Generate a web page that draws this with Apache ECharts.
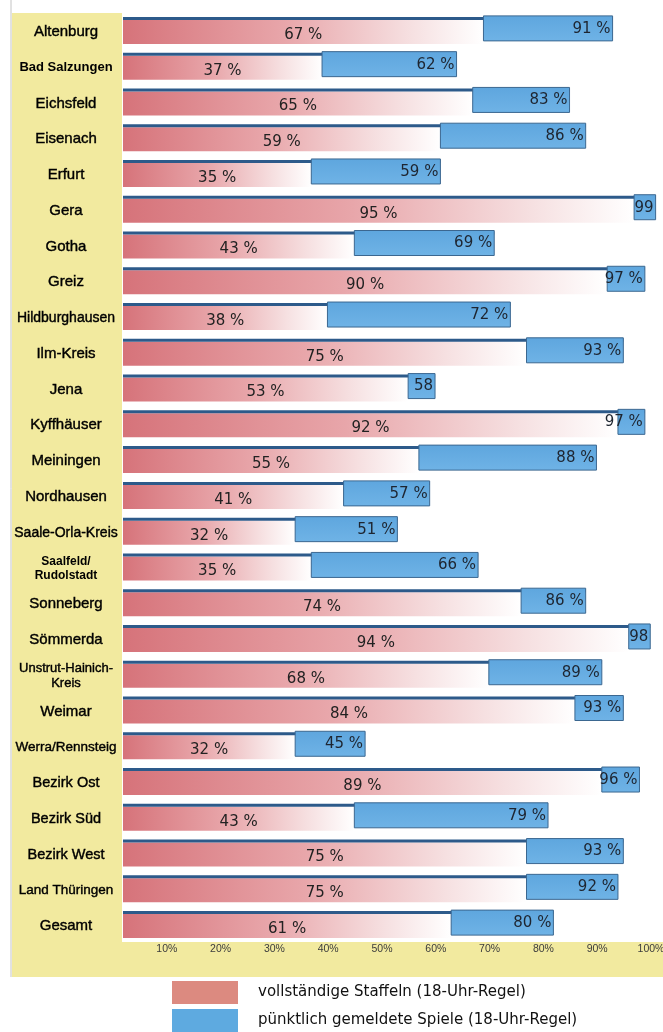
<!DOCTYPE html>
<html>
<head>
<meta charset="utf-8">
<script src="https://cdn.jsdelivr.net/npm/echarts@6/dist/echarts.min.js"></script>
<style>
html,body{margin:0;padding:0;background:#ffffff;}
#chart{width:663px;height:1032px;}
</style>
</head>
<body>
<div id="chart"></div>
<script>
// ---- data ----
const categories = ['Altenburg','Bad Salzungen','Eichsfeld','Eisenach','Erfurt','Gera','Gotha','Greiz',
  'Hildburghausen','Ilm-Kreis','Jena','Kyffhäuser','Meiningen','Nordhausen','Saale-Orla-Kreis',
  'Saalfeld/Rudolstadt','Sonneberg','Sömmerda','Unstrut-Hainich-Kreis','Weimar','Werra/Rennsteig',
  'Bezirk Ost','Bezirk Süd','Bezirk West','Land Thüringen','Gesamt'];
const completeSquads = [67,37,65,59,35,95,43,90,38,75,53,92,55,41,32,35,74,94,68,84,32,89,43,75,75,61];
const punctualGames  = [91,62,83,86,59,99,69,97,72,93,58,97,88,57,51,66,86,98,89,93,45,96,79,93,92,80];
const noPercentLabel = ['Gera','Jena','Sömmerda'];   // labels cut off in the original
const xTicks = [10,20,30,40,50,60,70,80,90,100];
const seriesNames = ['vollständige Staffeln (18-Uhr-Regel)','pünktlich gemeldete Spiele (18-Uhr-Regel)'];

// ---- styling ----
const baseLabel = {align:'center', color:'#000', fontSize:15, fontFamily:'"Liberation Sans", Arial, sans-serif',
  textBorderColor:'#000', textBorderWidth:0.4};
const labelStyle = {
  'Bad Salzungen': {fontSize:13, fontWeight:'bold', textBorderWidth:0},
  'Hildburghausen': {fontSize:14},
  'Saale-Orla-Kreis': {fontSize:14},
  'Saalfeld/Rudolstadt': {fontSize:12, fontWeight:'bold', lineHeight:14, textBorderWidth:0},
  'Unstrut-Hainich-Kreis': {fontSize:13, lineHeight:15},
  'Werra/Rennsteig': {fontSize:13.5},
  'Land Thüringen': {fontSize:13.5},
  'Bezirk Ost': {fontSize:14.5},
  'Bezirk Süd': {fontSize:14.5},
  'Bezirk West': {fontSize:14.5}
};
const RED = '#dc8a80', BLUE = '#5eaae0', DARK = '#2d5a8a';
const valueFont = '15px "DejaVu Sans", Verdana, sans-serif';

const chart = echarts.init(document.getElementById('chart'), null, {renderer:'canvas'});

const yData = categories.map(c => ({value:c, textStyle: Object.assign({}, baseLabel, labelStyle[c] || {})}));

function renderRed(params, api){
  const i = api.value(0), v = api.value(1);
  const p0 = api.coord([0, i]), p1 = api.coord([v, i]);
  const c = p0[1];
  return {type:'group', children:[
    {type:'rect', shape:{x:p0[0], y:c-12, width:p1[0]-p0[0], height:24},
     style:{fill:new echarts.graphic.LinearGradient(0,0,1,0,[
        {offset:0,color:'#d6737a'},{offset:0.45,color:'#e8a6aa'},
        {offset:0.8,color:'#f6e0e1'},{offset:1,color:'#ffffff'}])}},
    {type:'text', style:{text: v + ' %', x:(p0[0]+p1[0])/2, y:c+3, align:'center', verticalAlign:'middle',
     font: valueFont, fill:'#222'}}
  ]};
}
function renderBlue(params, api){
  const i = api.value(0), r = api.value(1), b = api.value(2);
  const p0 = api.coord([0, i]), pR = api.coord([r, i]), pB = api.coord([b, i]);
  const c = p0[1];
  const txt = noPercentLabel.indexOf(categories[i]) >= 0 ? String(b) : b + ' %';
  return {type:'group', children:[
    {type:'rect', shape:{x:p0[0], y:c-15, width:pB[0]-p0[0], height:3}, style:{fill:DARK}},
    {type:'rect', shape:{x:pR[0], y:c-16, width:pB[0]-pR[0], height:25},
     style:{fill:new echarts.graphic.LinearGradient(0,0,0,1,[
        {offset:0,color:'#5ea6de'},{offset:1,color:'#6fb3e6'}]), stroke:'#3b6790', lineWidth:1}},
    {type:'text', style:{text: txt, x:pB[0]-2, y:c-3, align:'right', verticalAlign:'middle',
     font: valueFont, fill:'#1e2530'}}
  ]};
}

const option = {
  animation:false,
  backgroundColor:'#ffffff',
  graphic:[
    {type:'line', z:-10, shape:{x1:11,y1:0,x2:11,y2:977}, style:{stroke:'#c4c4c4', lineWidth:1}},
    {type:'rect', z:-10, shape:{x:12,y:13,width:110,height:964}, style:{fill:'#f2ea9f'}},
    {type:'rect', z:-10, shape:{x:12,y:942,width:651,height:35}, style:{fill:'#f2ea9f'}}
  ],
  grid:{left:123, top:14, width:538, height:930, containLabel:false, outerBoundsMode:'none'},
  xAxis:{type:'value', min:0, max:100, interval:10,
    axisLine:{show:false}, axisTick:{show:false}, splitLine:{show:false},
    axisLabel:{showMinLabel:false, margin:0, padding:[0,20,0,0],
      formatter: v => xTicks.indexOf(v) >= 0 ? v + '%' : '',
      fontFamily:'"Liberation Sans", Arial, sans-serif', fontSize:10.5, color:'#3c3c3c'}},
  yAxis:{type:'category', inverse:true, data:yData,
    axisLine:{show:false}, axisTick:{show:false}, splitLine:{show:false},
    axisLabel:Object.assign({margin:57,
      formatter: v => v.replace('Saalfeld/','Saalfeld/\n').replace('Hainich-','Hainich-\n')}, baseLabel)},
  legend:{orient:'vertical', left:172, top:981, itemWidth:66, itemHeight:23, itemGap:5, padding:0,
    icon:'rect',
    textStyle:{fontFamily:'"DejaVu Sans", Verdana, sans-serif', fontSize:15, color:'#111', padding:[0,0,0,15]},
    data:[{name:seriesNames[0], itemStyle:{color:RED}}, {name:seriesNames[1], itemStyle:{color:BLUE}}]},
  series:[
    {name:seriesNames[0], type:'custom', renderItem:renderRed, itemStyle:{color:RED},
     encode:{x:1, y:0}, data: categories.map((c,i)=>[i, completeSquads[i]])},
    {name:seriesNames[1], type:'custom', renderItem:renderBlue, itemStyle:{color:BLUE},
     encode:{x:2, y:0}, data: categories.map((c,i)=>[i, completeSquads[i], punctualGames[i]])}
  ]
};
chart.setOption(option);
</script>
</body>
</html>
